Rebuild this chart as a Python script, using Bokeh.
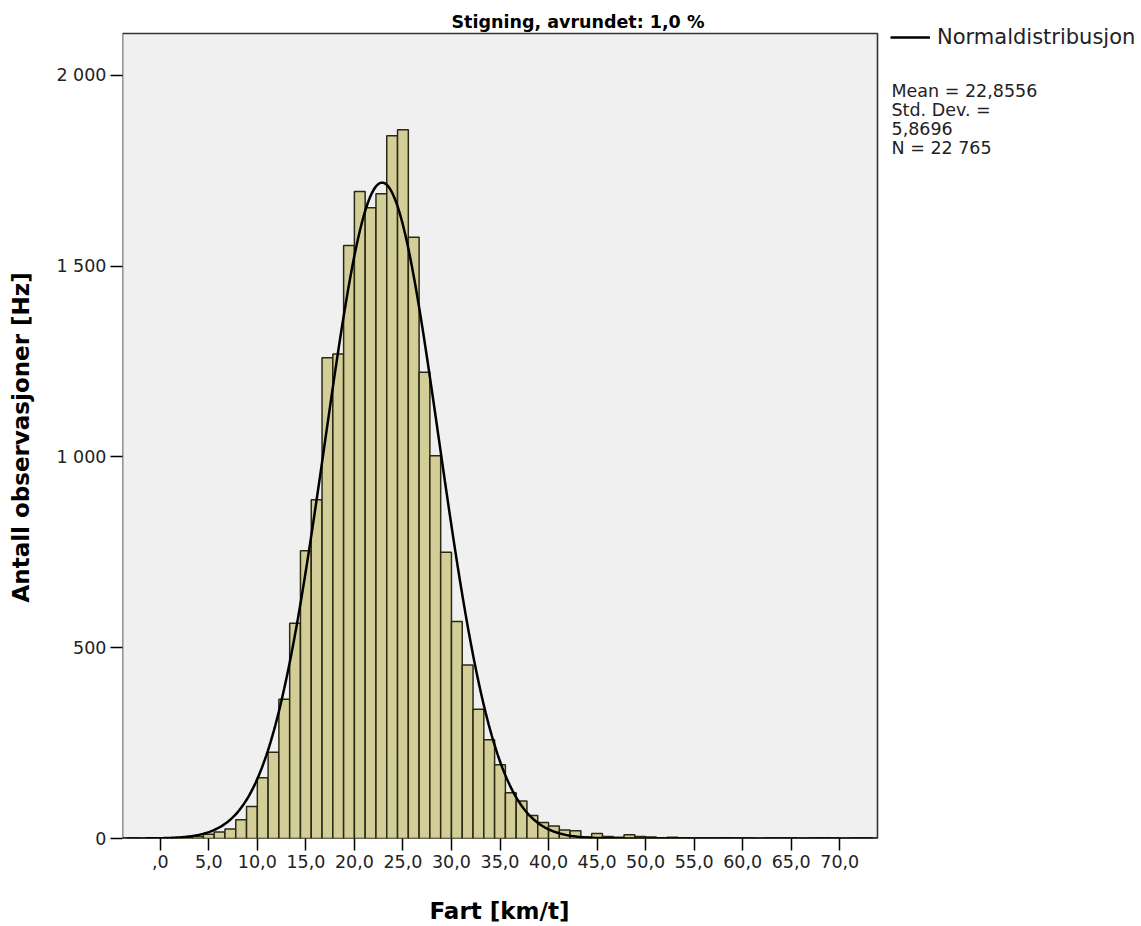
import numpy as np
from bokeh.plotting import figure
from bokeh.models import Range1d, FixedTicker, Label, Legend, LegendItem, BoxAnnotation, Title
from bokeh.embed import file_html
from bokeh.resources import INLINE

# ---- texts ----
title_text = "Stigning, avrundet: 1,0 %"
x_label = "Fart [km/t]"
y_label = "Antall observasjoner [Hz]"
legend_label = "Normaldistribusjon"
stats_lines = ["Mean = 22,8556", "Std. Dev. =", "5,8696", "N = 22 765"]

# ---- statistics ----
mean_value = 22.8556
std_value = 5.8696
n_value = 22765

# ---- histogram ----
bin_start = -3.3333
bin_width = 1.1111
counts = [1, 0, 1, 1, 2, 3,
          5, 11, 17, 25, 49, 84, 159, 226, 365, 564, 754, 888,
          1260, 1270, 1554, 1696, 1653, 1690, 1842, 1858, 1576, 1222, 1003,
          750, 569, 455, 339, 259, 193, 120, 98, 60, 42, 33, 22, 20, 4, 13,
          5, 3, 10, 5, 4,
          2, 3, 2, 1, 1, 1, 2, 1, 1, 0, 1, 1, 1, 0, 1, 2, 1, 0, 1, 1]

# ---- ticks ----
x_ticks = [0, 5, 10, 15, 20, 25, 30, 35, 40, 45, 50, 55, 60, 65, 70]
x_tick_labels = [",0", "5,0", "10,0", "15,0", "20,0", "25,0", "30,0", "35,0",
                 "40,0", "45,0", "50,0", "55,0", "60,0", "65,0", "70,0"]
y_ticks = [0, 500, 1000, 1500, 2000]
y_tick_labels = ["0", "500", "1 000", "1 500", "2 000"]

# plot-area extent in data units
x_min, x_max = -3.89, 73.89
y_min, y_max = 0, 2110

FONT = "DejaVu Sans"
W, H = 1141, 926
AREA_L, AREA_R, AREA_T, AREA_B = 122, 877, 33, 838   # plot area in page pixels

# the canvas frame spans the plot area plus the free space right of and above it
px_per_x = (AREA_R - AREA_L) / (x_max - x_min)
px_per_y = (AREA_B - AREA_T) / (y_max - y_min)
x_end = x_min + (W - AREA_L) / px_per_x
y_end = y_min + AREA_B / px_per_y

lefts = [bin_start + i * bin_width for i in range(len(counts))]
rights = [l + bin_width for l in lefts]

p = figure(width=W, height=H, x_range=Range1d(x_min, x_end), y_range=Range1d(y_min, y_end),
           output_backend="svg", toolbar_location=None, title=None,
           min_border_left=AREA_L, min_border_right=0, min_border_top=0, min_border_bottom=H - AREA_B)
p.background_fill_color = "white"
p.border_fill_color = "white"
p.outline_line_color = None
p.grid.visible = False

# plot area background and border
p.add_layout(BoxAnnotation(left=x_min, right=x_max, bottom=y_min, top=y_max,
                           fill_color="#F0F0F0", fill_alpha=1.0,
                           line_color="#333333", line_alpha=1.0, line_width=1.6, level="underlay"))

p.quad(left=lefts, right=rights, top=counts, bottom=0,
       fill_color="#D3CE97", line_color="#2a2915", line_width=1.5)

xs = np.linspace(x_min, x_max, 500)
ys = n_value * bin_width / (std_value * np.sqrt(2 * np.pi)) * np.exp(-0.5 * ((xs - mean_value) / std_value) ** 2)
curve = p.line(xs, ys, line_color="black", line_width=2.5)

for ax in (p.xaxis[0], p.yaxis[0]):
    ax.minor_tick_line_color = None
    ax.major_tick_in = 0
    ax.major_tick_out = 12
    ax.major_tick_line_color = "black"
    ax.major_tick_line_width = 1.5
    ax.axis_line_color = None
    ax.major_label_text_font = FONT
    ax.major_label_text_font_size = "17.5px"
    ax.major_label_text_color = "#222222"
    # blank spacer label: pushes the axis titles (below) outward
    ax.axis_label = " "
    ax.axis_label_text_font_size = "1px"

p.xaxis.ticker = FixedTicker(ticks=x_ticks)
p.xaxis.major_label_overrides = {t: s for t, s in zip(x_ticks, x_tick_labels)}
p.xaxis.major_label_standoff = 4
p.xaxis.axis_label_standoff = 20
p.yaxis.ticker = FixedTicker(ticks=y_ticks)
p.yaxis.major_label_overrides = {t: s for t, s in zip(y_ticks, y_tick_labels)}
p.yaxis.major_label_standoff = 4
p.yaxis.axis_label_standoff = 15

# axis titles, centred on the plot area
p.add_layout(Title(text=x_label, align="left", offset=307, standoff=2,
                   text_font=FONT, text_font_style="bold", text_font_size="23px",
                   text_color="black"), "below")
p.add_layout(Title(text=y_label, align="left", offset=236, standoff=2,
                   text_font=FONT, text_font_style="bold", text_font_size="23px",
                   text_color="black"), "left")

# chart title
p.add_layout(Label(x=451 - AREA_L, y=AREA_B - 21, x_units="screen", y_units="screen", text=title_text,
                   text_font=FONT, text_font_style="bold", text_font_size="17.5px",
                   text_baseline="middle", text_align="left", text_color="black"))

# statistics
for i, line in enumerate(stats_lines):
    p.add_layout(Label(x=891 - AREA_L, y=AREA_B - (90 + 19 * i), x_units="screen", y_units="screen",
                       text=line, text_font=FONT, text_font_size="17.5px",
                       text_baseline="middle", text_align="left", text_color="#222222"))

legend = Legend(items=[LegendItem(label=legend_label, renderers=[curve])],
                location=(890 - AREA_L, AREA_B - 24 - 25),
                label_text_font=FONT, label_text_font_size="21px", label_text_color="#222222",
                glyph_width=40, glyph_height=20, label_standoff=7, padding=0, margin=0,
                border_line_alpha=0, background_fill_alpha=0)
p.add_layout(legend)

open("out.html", "w").write(file_html(p, INLINE))
